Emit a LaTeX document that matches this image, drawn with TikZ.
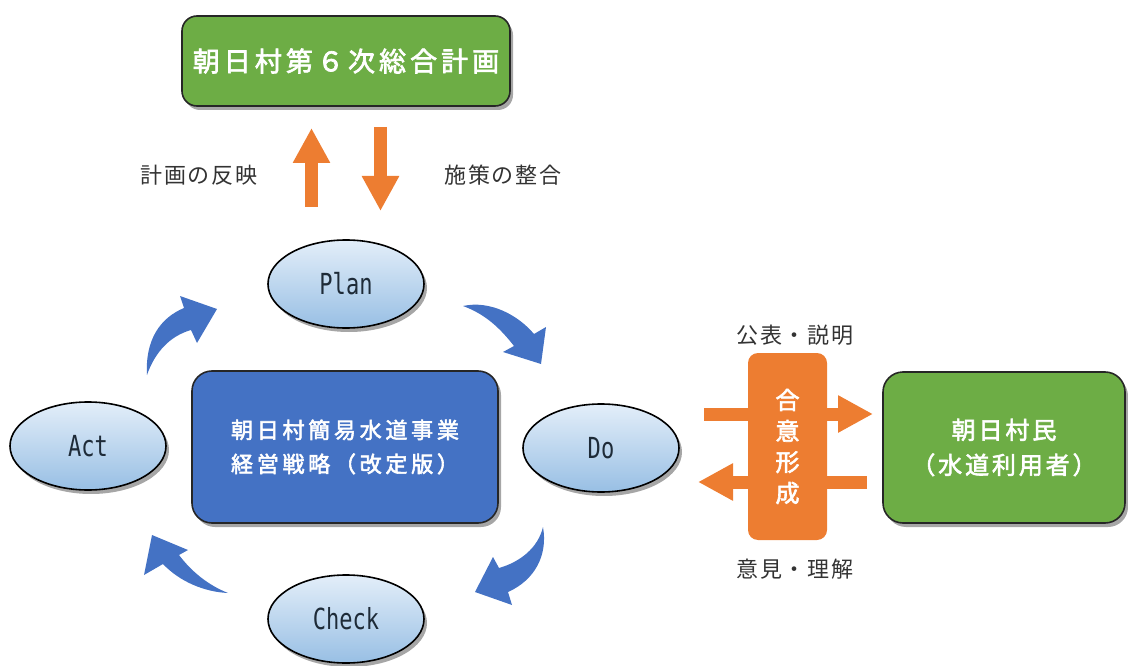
\documentclass[tikz,border=0pt]{standalone}
\usepackage{fontspec}
\usetikzlibrary{shapes.geometric,shadows,arrows.meta}
\newfontfamily\cjk{Noto Sans CJK JP}
\newfontfamily\cjkm[FakeBold=2.5]{Noto Sans CJK JP}
\newfontfamily\latmono[FakeStretch=0.76]{DejaVu Sans Mono}
\definecolor{grn}{HTML}{6DAD45}
\definecolor{blu}{HTML}{4472C4}
\definecolor{org}{HTML}{ED7D31}
\definecolor{elltop}{HTML}{E3EEF9}
\definecolor{ellbot}{HTML}{98BFE4}
\definecolor{lbl}{HTML}{333333}
\definecolor{elltxt}{HTML}{1E2B38}
\begin{document}
\begin{tikzpicture}[x=1pt,y=-1pt,
  shadowed/.style={drop shadow={shadow xshift=3pt,shadow yshift=-4pt,opacity=0.35,fill=black}},
  rbox/.style={rectangle,draw=black!85,line width=1.6pt,shadowed,text=white,align=center,inner sep=0pt},
  ell/.style={ellipse,draw=black,line width=1.6pt,minimum width=156pt,minimum height=88pt,
    top color=elltop,bottom color=ellbot,shadowed,inner sep=0pt,
    font=\latmono\fontsize{29}{32}\selectfont,text=elltxt},
  lab/.style={font=\cjk\fontsize{22}{26}\selectfont\addfontfeature{LetterSpace=7},text=lbl,inner sep=0pt},
  orarrow/.style={draw=org,line width=13pt,-{Triangle[width=35pt,length=35pt]}},
  bluarrow/.style={fill=blu,draw=none}
]
\useasboundingbox (0,0) rectangle (1128,666);

% boxes
\node[rbox,fill=grn,rounded corners=15pt,minimum width=328pt,minimum height=90pt,
  font=\cjkm\fontsize{27}{32}\selectfont\addfontfeature{LetterSpace=15}] (plan6) at (346,61) {朝日村第６次総合計画};

\node[rbox,fill=blu,rounded corners=20pt,minimum width=306pt,minimum height=152pt,
  font=\cjkm\fontsize{22}{34}\selectfont\addfontfeature{LetterSpace=17}] (strat) at (345,447) {朝日村簡易水道事業\\経営戦略（改定版）};

\node[rbox,fill=grn,rounded corners=20pt,minimum width=242pt,minimum height=151pt,
  font=\cjkm\fontsize{24}{35}\selectfont\addfontfeature{LetterSpace=12}] (users) at (1004,447.5) {朝日村民\\（水道利用者）};

% ellipses
\node[ell] (plan) at (346,284) {Plan};
\node[ell] (act) at (88,446) {Act};
\node[ell] (do) at (601,448) {Do};
\node[ell] (check) at (346,619) {Check};

% top orange arrows
\coordinate (upS) at (311.5,207);
\coordinate (upE) at (311.5,128);
\coordinate (dnS) at (380.5,127);
\coordinate (dnE) at (380.5,211);
\draw[orarrow] (upS) -- (upE);
\draw[orarrow] (dnS) -- (dnE);
\node[lab] (lref) at (199,175) {計画の反映};
\node[lab] (lcon) at (503,175) {施策の整合};

% right orange arrows and consensus box
\coordinate (raS) at (704,414);
\coordinate (raE) at (873,414);
\coordinate (laS) at (867,482);
\coordinate (laE) at (698,482);
\draw[orarrow] (raS) -- (raE);
\draw[orarrow] (laS) -- (laE);
\node[rectangle,fill=org,rounded corners=10pt,minimum width=79pt,minimum height=187pt,inner sep=0pt,
  text=white,align=center,font=\cjkm\fontsize{24}{31}\selectfont] (cons) at (787.5,446.5) {合\\意\\形\\成};
\node[lab] (lpub) at (795,335) {公表・説明};
\node[lab] (lopi) at (795,569) {意見・理解};

% blue curved arrows
\path[bluarrow] (147,375) .. controls (145,340) and (160,318) .. (184,308) -- (180,296) -- (217,309) -- (197,343) -- (191,330) .. controls (170,336) and (155,352) .. (147,375) -- cycle;
\path[bluarrow] (463,306) .. controls (490,300) and (518,315) .. (534,334) -- (546,327) -- (541,364) -- (503,352) -- (514,346) .. controls (500,328) and (485,314) .. (463,306) -- cycle;
\path[bluarrow] (543,527) .. controls (548,555) and (535,580) .. (508,592) -- (512,605) -- (475,592) -- (493,557) -- (499,568) .. controls (520,562) and (538,548) .. (543,527) -- cycle;
\path[bluarrow] (228,593) .. controls (205,592) and (180,582) .. (163,564) -- (144,575) -- (152,535) -- (188,550) -- (179,555) .. controls (192,572) and (208,585) .. (228,593) -- cycle;
\end{tikzpicture}
\end{document}
